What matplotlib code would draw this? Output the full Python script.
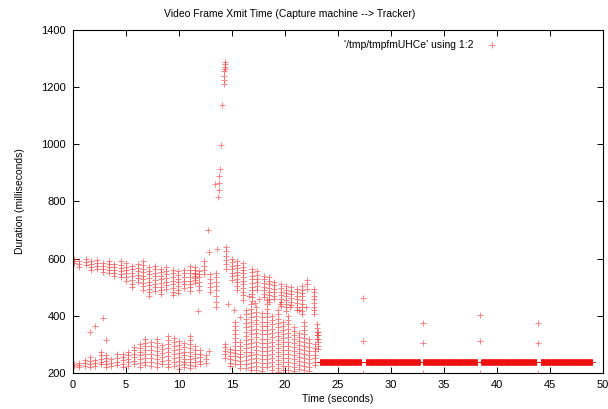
import matplotlib
matplotlib.use("Agg")
import matplotlib.pyplot as plt
import numpy as np

plt.rcParams['font.family'] = ['Liberation Sans', 'DejaVu Sans']

# frame send time (s) -> transit duration (ms), grouped in bursts of frames
upper_cols = [
    (0.1, [600, 592, 585]),
    (0.6, [590, 580, 572]),
    (1.2, [598, 588, 578]),
    (1.7, [590, 580, 570, 560]),
    (2.3, [595, 585, 575, 565]),
    (2.8, [585, 575, 565, 553]),
    (3.4, [590, 580, 570, 560, 548]),
    (3.9, [580, 570, 560, 550, 540]),
    (4.5, [590, 578, 566, 555, 545, 535]),
    (5.0, [585, 572, 560, 548, 535, 523]),
    (5.6, [575, 563, 550, 538, 525, 512, 500]),
    (6.1, [580, 568, 556, 544, 532, 520]),
    (6.6, [590, 578, 565, 553, 540, 528, 515, 503, 490]),
    (7.2, [570, 558, 545, 532, 520, 508, 495, 483, 470]),
    (7.7, [575, 562, 550, 538, 525, 512, 500, 487]),
    (8.3, [565, 552, 540, 528, 515, 502, 490, 478]),
    (8.8, [570, 558, 545, 532, 520, 508, 495]),
    (9.4, [560, 548, 535, 522, 510, 497, 485, 472]),
    (9.9, [555, 542, 530, 518, 505, 492, 480]),
    (10.5, [560, 548, 535, 522, 510, 498]),
    (11.0, [575, 560, 548, 535, 522, 510, 500, 488]),
    (11.5, [570, 560, 550, 545, 540, 532, 525, 515]),
    (11.9, [555, 545, 535, 520, 505, 490]),
    (12.4, [590, 575, 560, 545]),
    (12.9, [545, 530, 515, 500, 485]),
    (13.5, [550, 535, 520, 505, 490, 470, 450, 430]),
    (14.4, [640, 625, 610, 595, 580, 565]),
    (15.0, [600, 588, 575, 562, 550, 538, 525]),
    (15.5, [590, 578, 566, 554, 542, 530, 518, 505, 492]),
    (16.0, [585, 572, 560, 548, 535, 522, 510, 498, 485, 472]),
    (16.9, [565, 552, 540, 528, 515, 502, 490, 478, 465, 452]),
    (17.4, [555, 542, 530, 518, 505, 492]),
    (18.0, [540, 528, 515, 502, 490, 478, 465]),
    (18.5, [535, 522, 510, 498, 485, 472, 460, 448]),
    (19.0, [520, 508, 495, 482, 470, 458]),
    (19.6, [510, 498, 485, 472, 460, 448, 435]),
    (20.1, [505, 492, 480, 468, 455, 442, 430, 418]),
    (20.6, [500, 488, 475, 462, 450, 438]),
    (21.1, [495, 482, 470, 458, 445, 432, 420]),
    (21.6, [505, 492, 480, 468, 455, 442, 430, 418, 405]),
    (22.1, [525, 510, 495]),
    (22.7, [495, 482, 470, 458, 445, 432, 420, 408]),
    (23.0, [370, 358, 345, 332, 320]),
]

lower_cols = [
    (0.1, [225, 232]),
    (0.6, [220, 228, 236]),
    (1.1, [225, 235, 245]),
    (1.6, [222, 232, 242, 255]),
    (2.1, [225, 235, 245]),
    (2.6, [230, 240, 250, 262, 272]),
    (3.1, [222, 232, 242, 252, 262]),
    (3.6, [225, 236, 248]),
    (4.2, [228, 240, 252, 265]),
    (4.7, [220, 232, 244, 256, 268]),
    (5.2, [225, 237, 250, 262, 275]),
    (5.8, [230, 242, 255, 268, 280, 292]),
    (6.3, [222, 235, 248, 262, 275, 288, 300]),
    (6.8, [228, 240, 253, 266, 280, 293, 306, 320]),
    (7.4, [225, 238, 252, 266, 280, 294, 308]),
    (7.9, [222, 235, 248, 262, 276, 290, 304, 318]),
    (8.4, [230, 243, 256, 270, 284, 298]),
    (9.0, [220, 233, 246, 260, 274, 288, 302, 316, 330]),
    (9.5, [225, 238, 252, 266, 280, 294, 308, 322]),
    (10.0, [215, 228, 242, 256, 270, 284, 298, 312]),
    (10.5, [220, 230, 240, 250, 262, 275, 290, 305]),
    (11.0, [218, 228, 238, 248, 260, 272, 286, 300, 315, 330]),
    (11.5, [225, 238, 252, 266, 280, 295]),
    (12.0, [230, 242, 255, 268, 282]),
    (12.5, [235, 248, 262]),
    (14.3, [300, 290, 278, 265, 252]),
    (14.8, [285, 272, 260, 248, 236, 224]),
    (15.3, [380, 365, 350, 336, 322, 308, 295, 282, 270, 258, 245, 232]),
    (15.8, [310, 296, 282, 268, 255, 242, 230, 218]),
    (16.3, [420, 405, 390, 375, 360, 345, 330, 315, 300, 286, 272, 258, 244, 230, 216]),
    (16.8, [440, 425, 410, 395, 380, 365, 350, 335, 320, 305, 290, 275, 262, 248, 235, 222, 210]),
    (17.3, [430, 415, 400, 385, 370, 355, 340, 325, 310, 296, 282, 268, 254, 240, 226, 212]),
    (17.8, [410, 395, 380, 365, 350, 335, 320, 305, 290, 276, 262, 248, 234, 220, 206]),
    (18.3, [440, 425, 410, 395, 380, 365, 350, 335, 320, 305, 292, 278, 264, 250, 236, 222]),
    (18.8, [400, 385, 370, 355, 340, 325, 310, 296, 282, 268, 254, 240, 226, 212]),
    (19.3, [420, 405, 390, 375, 360, 345, 330, 315, 300, 286, 272, 258, 244, 230, 216, 202]),
    (19.8, [380, 365, 350, 336, 322, 308, 294, 280, 266, 252, 238, 224, 210]),
    (20.3, [400, 385, 370, 355, 340, 325, 310, 296, 282, 268, 254, 240, 226, 212]),
    (20.8, [360, 346, 332, 318, 304, 290, 276, 262, 248, 234, 220, 206]),
    (21.3, [340, 326, 312, 298, 284, 270, 256, 242, 228, 214]),
    (21.8, [380, 366, 352, 338, 324, 310, 296, 282, 268, 254, 240, 226, 212]),
    (22.3, [320, 306, 292, 278, 264, 250, 236, 222, 208]),
    (22.8, [300, 288, 276, 264, 252, 240, 228]),
    (23.1, [345, 333, 320, 308, 296, 284]),
]

# isolated frames
stray_x = [1.6, 2.1, 2.8, 3.1, 11.8, 12.8, 12.8, 12.7, 13.6, 13.4, 13.7, 13.8, 13.8, 13.8, 13.9,
           14.0, 14.1, 14.2, 14.2, 14.2, 14.2, 14.3, 14.3, 14.3, 14.3,
           14.6, 15.2, 15.8, 16.0, 16.6, 17.2, 17.5, 18.3, 19.5, 20.5, 21.3, 22.0,
           27.4, 27.4, 27.4, 33.0, 33.0, 33.0, 38.4, 38.4, 38.4, 43.9, 43.9, 43.9]
stray_y = [343, 363, 391, 315, 416, 624, 276, 700, 635, 861, 816, 840, 865, 890, 913,
           996, 1136, 1209, 1225, 1240, 1255, 1262, 1270, 1280, 1289,
           440, 420, 395, 455, 470, 445, 460, 455, 440, 430, 420, 430,
           464, 312, 200, 374, 304, 200, 402, 311, 200, 374, 304, 200]

# steady-state stream: constant transit time, with short pauses
band_y = 238
band_start = [23.3, 27.6, 33.0, 38.5, 44.1]
band_end = [27.2, 32.7, 38.1, 43.7, 49.0]
frame_period = 1 / 30

xs, ys = [], []
for x, col in upper_cols + lower_cols:
    xs += [x] * len(col)
    ys += col
xs += stray_x
ys += stray_y

bx = np.concatenate([np.arange(s, e, frame_period) for s, e in zip(band_start, band_end)])
by = np.full(len(bx), band_y)

fig = plt.figure(figsize=(6.08, 4.09), dpi=100)
ax = fig.add_axes([0.120, 0.088, 0.872, 0.839])

pts_style = dict(linestyle='none', marker='+', markersize=4.5, markeredgewidth=0.7)
ax.plot(xs, ys, color='#ff3030', alpha=0.6, label="'/tmp/tmpfmUHCe' using 1:2", **pts_style)
ax.plot(bx, by, color='#ee1010', alpha=0.95, **pts_style)

ax.set_xlim(0, 50)
ax.set_ylim(200, 1400)
ax.set_xticks(range(0, 51, 5))
ax.set_yticks(range(200, 1401, 200))
ax.tick_params(direction='in', top=True, right=True, length=4, width=0.7, labelsize=8, pad=5)
for s in ax.spines.values():
    s.set_linewidth(0.8)

fig.text(0.477, 0.965, 'Video Frame Xmit Time (Capture machine --> Tracker)',
         ha='center', va='center', fontsize=7.5)
ax.set_xlabel('Time (seconds)', fontsize=7.5, labelpad=3)
ax.set_ylabel('Duration (milliseconds)', fontsize=7.5, labelpad=12)

ax.legend(loc='upper right', bbox_to_anchor=(0.83, 1.0), frameon=False, markerfirst=False,
          fontsize=7.5, handlelength=2.0, borderaxespad=0.6)

fig.savefig('out.png', dpi=100)
